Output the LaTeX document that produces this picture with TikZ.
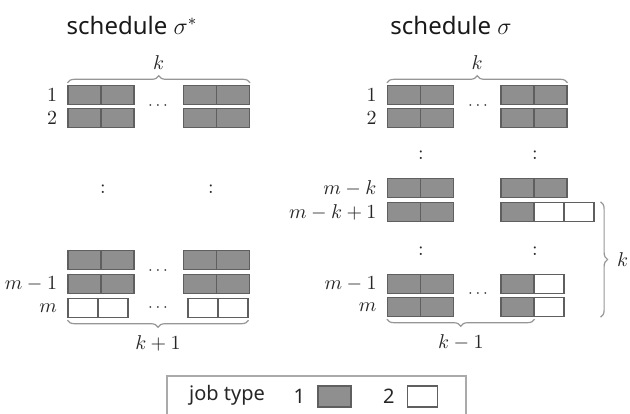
\documentclass[tikz,border=0pt]{standalone}
\usepackage{fontspec}
\setsansfont{Noto Sans}
\usepackage{tikz}
\usetikzlibrary{positioning}
\usetikzlibrary{decorations.pathreplacing}

\definecolor{jobfill}{RGB}{143,143,143}
\definecolor{jobline}{RGB}{95,95,95}
\definecolor{bracegray}{RGB}{150,150,150}
\definecolor{framegray}{RGB}{170,170,170}

\begin{document}
\begin{tikzpicture}[x=0.5pt, y=-0.5pt,
    every node/.style={inner sep=1pt, text=black!85},
    jobA/.style={rectangle, draw=jobline, fill=jobfill, line width=0.6pt,
      minimum width=16.5pt, minimum height=9.6pt, inner sep=0pt},
    jobB/.style={jobA, fill=white, minimum width=15pt},
    grpbrace/.style={decorate, decoration={brace, amplitude=3.5pt},
      draw=bracegray, line width=0.6pt},
    title/.style={font=\sffamily\large, text=black!90},
    hdots/.style={font=\footnotesize}]

        \useasboundingbox (0,0) rectangle (630,413);

        % Titles
        \node[title] (ttlA) at (132,25) {schedule $\sigma^*$};
        \node[title] (ttlB) at (451,25) {schedule $\sigma$};

        % Schedule sigma*: rows 1, 2, (m-2), m-1 are all type 1
        \foreach \r/\y in {1/95, 2/118, 3/260, 4/284} {
          \node[jobA] (sa\r1) at (84.5,\y) {};
          \node[jobA] (sa\r2) at (117.5,\y) {};
          \node[jobA] (sa\r3) at (200,\y) {};
          \node[jobA] (sa\r4) at (233,\y) {};
        }

        % Last machine only gets type 2
        \node[jobB] (sa51) at (83,308) {};
        \node[jobB] (sa52) at (113,308) {};
        \node[jobB] (sa53) at (203,308) {};
        \node[jobB] (sa54) at (233,308) {};

        % Machine labels
        \node[left=4pt of sa11] {$1$};
        \node[left=4pt of sa21] {$2$};
        \node[left=4pt of sa41] {$m-1$};
        \node[left=4pt of sa51] {$m$};

        % Dots
        \node[hdots] at (158,106) {$\cdots$};
        \node[hdots] at (158,271) {$\cdots$};
        \node[hdots] at (158,308) {$\cdots$};
        \node at (103,189) {:};
        \node at (211,189) {:};

        % Braces
        \draw[grpbrace] ([yshift=1pt]sa11.north west) -- ([yshift=1pt]sa14.north east)
          node[midway, above=5.5pt] {$k$};
        \draw[grpbrace, decoration={mirror}] ([yshift=-1pt]sa51.south west) -- ([yshift=-1pt]sa54.south east)
          node[midway, below=6.5pt] {$k+1$};

        % Schedule sigma: first m-k machines are all type 1
        \foreach \r/\y in {1/95, 2/118, 3/188} {
          \node[jobA] (sb\r1) at (404,\y) {};
          \node[jobA] (sb\r2) at (437,\y) {};
          \node[jobA] (sb\r3) at (517.5,\y) {};
          \node[jobA] (sb\r4) at (550.5,\y) {};
        }

        % Last k machines
        \foreach \r/\y in {4/212, 5/284, 6/307} {
          \node[jobA] (sb\r1) at (404,\y) {};
          \node[jobA] (sb\r2) at (437,\y) {};
          \node[jobA] (sb\r3) at (517.5,\y) {};
          \node[jobB] (sb\r4) at (549,\y) {};
        }
        \node[jobB] (sb45) at (579,212) {};

        % Machine labels
        \node[left=4pt of sb11] {$1$};
        \node[left=4pt of sb21] {$2$};
        \node[left=4pt of sb31] {$m-k$};
        \node[left=4pt of sb41] {$m-k+1$};
        \node[left=4pt of sb51] {$m-1$};
        \node[left=4pt of sb61] {$m$};

        % Dots
        \node[hdots] at (478,106) {$\cdots$};
        \node[hdots] at (478,294) {$\cdots$};
        \foreach \y in {155, 251} {
          \node at (421,\y) {:};
          \node at (535,\y) {:};
        }

        % Braces
        \draw[grpbrace] ([yshift=1pt]sb11.north west) -- ([yshift=1pt]sb14.north east)
          node[midway, above=5.5pt] {$k$};
        \draw[grpbrace, decoration={mirror}] ([yshift=-1pt]sb61.south west) -- ([yshift=-1pt]sb63.south east)
          node[midway, below=6.5pt] {$k-1$};
        \coordinate (brtop) at ([xshift=3pt]sb45.north east);
        \coordinate (brbot) at (brtop |- sb64.south);
        \draw[grpbrace] (brtop) -- (brbot)
          node[midway, right=7pt] {$k$};

        % Legend
        \draw[framegray, line width=0.6pt] (167,376) rectangle (466,430);
        \node[font=\sffamily] (lgtext) at (227,395) {job type};
        \node[jobA, minimum height=10.5pt] (lgA) at (334.5,396.5) {};
        \node[jobB, minimum height=10.5pt] (lgB) at (422.5,396.5) {};
        \node[font=\sffamily, left=5pt of lgA] {1};
        \node[font=\sffamily, left=5pt of lgB] {2};

      \end{tikzpicture}
\end{document}
